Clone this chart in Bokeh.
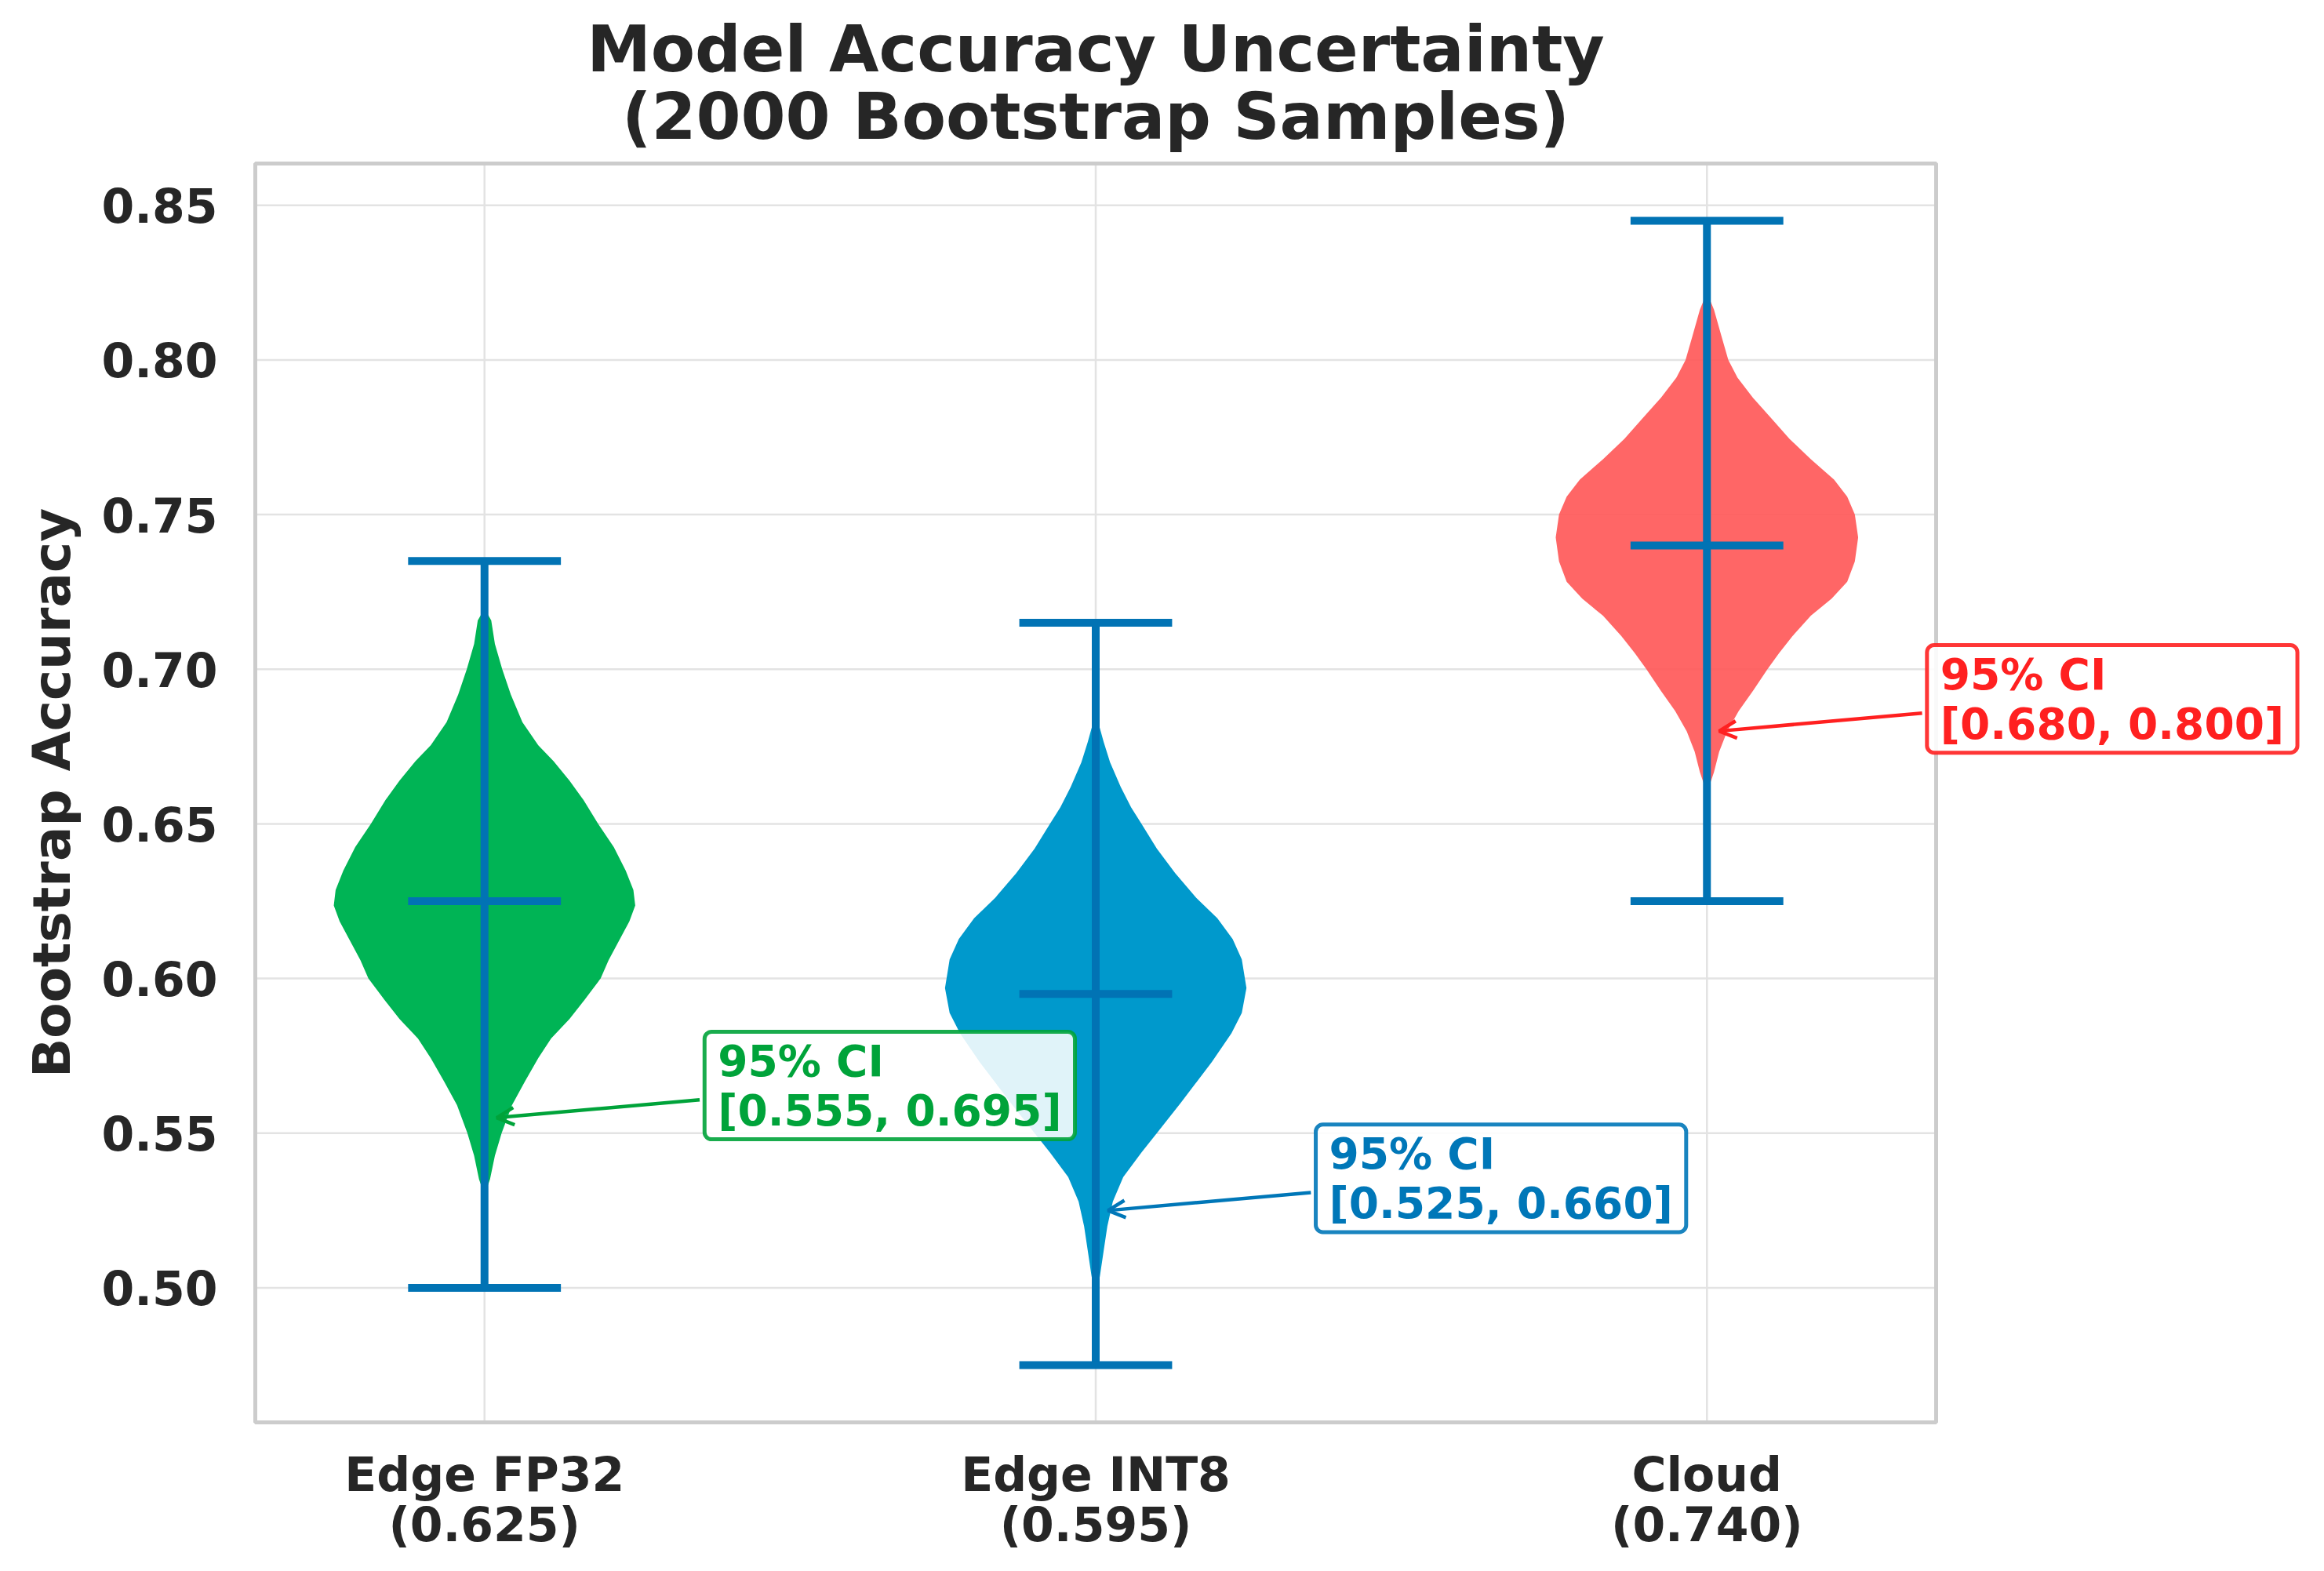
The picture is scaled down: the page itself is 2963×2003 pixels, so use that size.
from bokeh.plotting import figure
from bokeh.models import Label, Arrow, OpenHead, FixedTicker, Range1d, PrintfTickFormatter, Title
from bokeh.embed import file_html
from bokeh.resources import INLINE

# ---------------- data ----------------
categories = ["Edge FP32", "Edge INT8", "Cloud"]
positions = [1, 2, 3]
means = [0.625, 0.595, 0.740]
whisker_lo = [0.500, 0.475, 0.625]
whisker_hi = [0.735, 0.715, 0.845]
ci_low = [0.555, 0.525, 0.680]
ci_high = [0.695, 0.660, 0.800]

# violin outlines: accuracy level and half-width
fp32_y = [0.7196, 0.7158, 0.7082, 0.7000, 0.6918, 0.6829, 0.6754, 0.6703, 0.6640,
          0.6577, 0.6500, 0.6425, 0.6349, 0.6286, 0.6236, 0.6185, 0.6122, 0.6059,
          0.6000, 0.5932, 0.5869, 0.5806, 0.5743, 0.5667, 0.5591, 0.5500, 0.5427,
          0.5351, 0.5300]
fp32_w = [0.000, 0.011, 0.017, 0.029, 0.043, 0.062, 0.088, 0.113, 0.139,
          0.162, 0.186, 0.2115, 0.231, 0.2436, 0.2466, 0.237, 0.220, 0.203,
          0.190, 0.164, 0.139, 0.109, 0.088, 0.066, 0.045, 0.028, 0.017,
          0.009, 0.000]
int8_y = [0.6858, 0.6765, 0.6699, 0.6619, 0.6553, 0.6500, 0.6420, 0.6341, 0.6261,
          0.6195, 0.6128, 0.6062, 0.5969, 0.5889, 0.5823, 0.5730, 0.5598, 0.5500,
          0.5438, 0.5358, 0.5279, 0.5199, 0.5120, 0.5040, 0.4960]
int8_w = [0.000, 0.013, 0.0235, 0.041, 0.058, 0.075, 0.100, 0.130, 0.1645,
          0.199, 0.224, 0.239, 0.2466, 0.239, 0.222, 0.190, 0.139, 0.100,
          0.075, 0.045, 0.028, 0.019, 0.013, 0.007, 0.000]
cloud_y = [0.8218, 0.8163, 0.8075, 0.8000, 0.7943, 0.7877, 0.7811, 0.7745, 0.7679,
           0.7613, 0.7558, 0.7500, 0.7426, 0.7349, 0.7283, 0.7228, 0.7173, 0.7107,
           0.7052, 0.7000, 0.6931, 0.6865, 0.6799, 0.6733, 0.6667, 0.6600]
cloud_w = [0.000, 0.0115, 0.024, 0.035, 0.050, 0.0756, 0.1055, 0.135, 0.170,
           0.208, 0.2295, 0.242, 0.2474, 0.242, 0.2295, 0.204, 0.170, 0.140,
           0.118, 0.099, 0.0756, 0.052, 0.033, 0.020, 0.0115, 0.000]

violin_y = [fp32_y, int8_y, cloud_y]
violin_w = [fp32_w, int8_w, cloud_w]

y_ticks = [0.50, 0.55, 0.60, 0.65, 0.70, 0.75, 0.80, 0.85]
title_lines = ["Model Accuracy Uncertainty", "(2000 Bootstrap Samples)"]
y_label = "Bootstrap Accuracy"

# ---------------- layout / style ----------------
W, H = 2947, 1987
L, R, T, B = 325, 2468, 208, 1813          # visible axes box in canvas px
X0, X1 = 0.625, 3.375                       # visible data limits
Y0, Y1 = 0.4565, 0.8635
PAD = 4
sx = (R - L) / (X1 - X0)
sy = (B - T) / (Y1 - Y0)

violin_colors = ["#00B455", "#0099CC", "#FF5A5A"]
violin_alpha = [1.0, 1.0, 0.93]
ann_colors = ["#00A33A", "#0077B8", "#FF2020"]
whisker_color = "#0173B4"
grid_color = "#e3e3e3"
FONT = "DejaVu Sans"
TXT = "#262626"

p = figure(width=W, height=H, output_backend="svg", toolbar_location=None,
           x_range=Range1d(X0 - PAD / sx, X1 + (W - R) / sx),
           y_range=Range1d(Y0 - PAD / sy, Y1 + T / sy),
           min_border_left=L - PAD, min_border_right=0, min_border_top=0,
           min_border_bottom=H - B - PAD)
p.background_fill_color = "white"
p.border_fill_color = "white"
p.outline_line_color = None
p.xgrid.visible = False
p.ygrid.visible = False

# axes
p.xaxis.ticker = FixedTicker(ticks=positions)
p.xaxis.major_label_overrides = {pos: f"{c}\n({m:.3f})" for pos, c, m in zip(positions, categories, means)}
p.yaxis.ticker = FixedTicker(ticks=y_ticks)
p.yaxis.formatter = PrintfTickFormatter(format="%.2f")
for ax in (p.xaxis, p.yaxis):
    ax.axis_line_color = None
    ax.major_tick_line_color = None
    ax.minor_tick_line_color = None
    ax.major_tick_out = 0
    ax.major_tick_in = 0
    ax.minor_tick_out = 0
    ax.minor_tick_in = 0
    ax.major_label_text_font = FONT
    ax.major_label_text_font_style = "bold"
    ax.major_label_text_color = TXT
    ax.major_label_text_font_size = "60px"
p.xaxis.major_label_standoff = 31 - PAD
p.xaxis.major_label_text_line_height = 0.92
p.yaxis.major_label_standoff = 48 - PAD

# y axis label (placed along the visible box)
label_w = 11.0 * 66
p.add_layout(Title(text=y_label, align="left", vertical_align="top",
                   offset=(B + PAD) - ((T + B) / 2 + label_w / 2), standoff=40,
                   text_font=FONT, text_font_size="66px", text_font_style="bold",
                   text_color=TXT), "left")

# grid and axes box
p.segment(x0=X0, x1=X1, y0=y_ticks, y1=y_ticks, line_color=grid_color, line_width=2.5)
p.segment(x0=positions, x1=positions, y0=Y0, y1=Y1, line_color=grid_color, line_width=2.5)
p.quad(left=X0, right=X1, bottom=Y0, top=Y1, fill_color=None, line_color="#cccccc", line_width=5)

# title
for txt, cy in zip(title_lines, [62, 148]):
    p.add_layout(Label(x=(X0 + X1) / 2, y=Y1 + (T - cy) / sy, text=txt,
                       text_font=FONT, text_font_size="82px", text_font_style="bold",
                       text_color=TXT, text_align="center", text_baseline="middle"))

# violins
for pos, ys, ws, col, a in zip(positions, violin_y, violin_w, violin_colors, violin_alpha):
    xs = [pos + w for w in ws] + [pos - w for w in reversed(ws)]
    yy = list(ys) + list(reversed(ys))
    p.patch(xs, yy, fill_color=col, fill_alpha=a, line_color=None)

# whiskers, caps and mean lines
cap = 0.125
p.segment(x0=positions, y0=whisker_lo, x1=positions, y1=whisker_hi,
          line_color=whisker_color, line_width=10, line_cap="butt")
for vals in (whisker_lo, whisker_hi, means):
    p.segment(x0=[x - cap for x in positions], y0=vals, x1=[x + cap for x in positions], y1=vals,
              line_color=whisker_color, line_width=10, line_cap="butt")

# CI annotations
for pos, lo, hi, col in zip(positions, ci_low, ci_high, ann_colors):
    p.add_layout(Arrow(end=OpenHead(size=22, line_color=col, line_width=4.5),
                       x_start=pos + 0.352, y_start=lo + 0.0058,
                       x_end=pos + 0.02, y_end=lo,
                       line_color=col, line_width=4.5))
    p.add_layout(Label(x=pos + 0.36, y=lo + 0.0104,
                       text=f"95% CI\n[{lo:.3f}, {hi:.3f}]",
                       text_font=FONT, text_font_style="bold", text_font_size="55px",
                       text_color=col, text_align="left", text_baseline="middle",
                       text_line_height=0.986,
                       background_fill_color="white", background_fill_alpha=0.88,
                       border_line_color=col, border_line_width=5, border_line_alpha=0.9,
                       border_radius=9,
                       padding=dict(left=17, right=17, top=5, bottom=5)))

open("out.html", "w").write(file_html(p, INLINE))
